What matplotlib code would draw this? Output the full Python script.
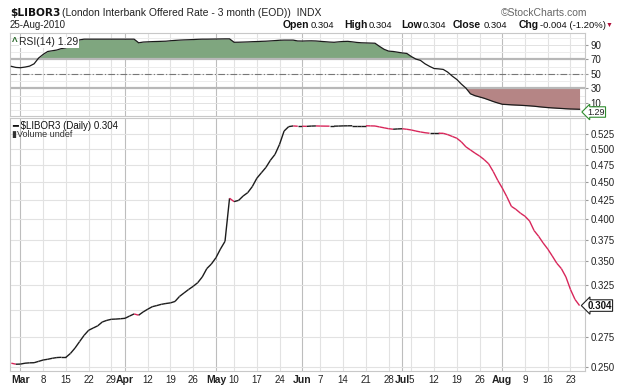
import numpy as np
import pandas as pd
import matplotlib
matplotlib.use('Agg')
import matplotlib.pyplot as plt
from matplotlib.collections import LineCollection
from matplotlib.ticker import FixedLocator, NullLocator, NullFormatter

# trading days (London holidays left out)
dates = pd.bdate_range('2010-02-25', '2010-08-25')
uk_holidays = pd.to_datetime(['2010-04-02', '2010-04-05', '2010-05-03', '2010-05-31'])
dates = dates[~dates.isin(uk_holidays)]

# 3 month LIBOR close
libor = [
    0.2530, 0.2522, 0.2523, 0.2530, 0.2533, 0.2534, 0.2545, 0.2556, 0.2562, 0.2570,
    0.2576, 0.2578, 0.2578, 0.2610, 0.2655, 0.2710, 0.2765, 0.2810, 0.2830, 0.2850,
    0.2885, 0.2900, 0.2910, 0.2912, 0.2915, 0.2919, 0.2940, 0.2960, 0.2948, 0.2979,
    0.3005, 0.3029, 0.3040, 0.3052, 0.3060, 0.3066, 0.3080, 0.3130, 0.3165, 0.3200,
    0.3232, 0.3270, 0.3330, 0.3420, 0.3470, 0.3540, 0.3640, 0.3730, 0.4279, 0.4233,
    0.4250, 0.4310, 0.4356, 0.4440, 0.4560, 0.4640, 0.4720, 0.4830, 0.4920, 0.5080,
    0.5300, 0.5375, 0.5387, 0.5382, 0.5382, 0.5380, 0.5385, 0.5387, 0.5385, 0.5384,
    0.5383, 0.5383, 0.5385, 0.5388, 0.5389, 0.5390, 0.5390, 0.5390, 0.5390, 0.5388,
    0.5386, 0.5370, 0.5355, 0.5340, 0.5331, 0.5336, 0.5339, 0.5330, 0.5318, 0.5300,
    0.5285, 0.5272, 0.5263, 0.5263, 0.5263, 0.5262, 0.5240, 0.5210, 0.5180, 0.5120,
    0.5040, 0.4990, 0.4940, 0.4895, 0.4840, 0.4775, 0.4660, 0.4530, 0.4420, 0.4300,
    0.4170, 0.4130, 0.4080, 0.4040, 0.3980, 0.3860, 0.3790, 0.3710, 0.3640, 0.3560,
    0.3478, 0.3420, 0.3330, 0.3200, 0.3100, 0.3040,
]

# RSI(14)
rsi = [
    60.5, 59.0, 58.6, 59.5, 60.8, 64.0, 72.0, 77.0, 81.0, 82.0,
    83.0, 85.0, 86.0, 90.0, 94.0, 97.0, 98.0, 98.0, 98.0, 98.0,
    98.0, 98.0, 98.0, 98.0, 98.0, 98.0, 98.0, 98.0, 93.0, 94.0,
    94.3, 94.6, 94.8, 95.0, 95.2, 95.8, 96.3, 96.7, 97.0, 97.2,
    97.5, 97.8, 98.0, 98.0, 98.1, 98.2, 98.3, 98.4, 98.4, 93.7,
    93.8, 94.0, 94.2, 94.5, 94.7, 95.0, 95.2, 95.6, 96.0, 96.5,
    96.7, 96.7, 96.7, 95.5, 95.4, 95.6, 95.7, 95.5, 95.0, 94.5,
    94.0, 93.7, 94.3, 94.8, 95.0, 94.3, 93.5, 93.0, 92.8, 92.6,
    92.4, 88.0, 84.0, 81.5, 81.0, 80.0, 79.0, 78.3, 74.0, 70.5,
    68.7, 64.0, 60.5, 57.5, 57.0, 56.3, 52.5, 47.0, 42.4, 36.0,
    30.5, 22.6, 20.0, 18.3, 16.5, 14.3, 12.0, 10.0, 8.2, 7.8,
    7.4, 7.1, 6.8, 6.4, 6.0, 5.5, 4.8, 4.2, 3.6, 3.2,
    2.8, 2.4, 2.0, 1.7, 1.5, 1.29,
]

tick_dates = ['2010-03-01', '2010-03-08', '2010-03-15', '2010-03-22', '2010-03-29',
              '2010-04-01', '2010-04-12', '2010-04-19', '2010-04-26', '2010-05-04',
              '2010-05-10', '2010-05-17', '2010-05-24', '2010-06-01', '2010-06-07',
              '2010-06-14', '2010-06-21', '2010-06-28', '2010-07-01', '2010-07-05',
              '2010-07-12', '2010-07-19', '2010-07-26', '2010-08-02', '2010-08-09',
              '2010-08-16', '2010-08-23']
tick_text = ['Mar', '8', '15', '22', '29', 'Apr', '12', '19', '26', 'May', '10', '17', '24',
             'Jun', '7', '14', '21', '28', 'Jul', '5', '12', '19', '26', 'Aug', '9', '16', '23']
month_labels = ['Mar', 'Apr', 'May', 'Jun', 'Jul', 'Aug']

price_ticks = [0.250, 0.275, 0.300, 0.325, 0.350, 0.375, 0.400, 0.425, 0.450, 0.475, 0.500, 0.525]
rsi_ticks = [10, 30, 50, 70, 90]

W, H = 617, 386
x = np.arange(len(dates))
libor = np.array(libor)
rsi = np.array(rsi)
tick_pos = [dates.get_loc(pd.Timestamp(d)) for d in tick_dates]

plt.rcParams['font.family'] = ['Liberation Sans', 'DejaVu Sans']

fig = plt.figure(figsize=(W / 100, H / 100), dpi=100)
fig.patch.set_facecolor('white')


def px(x0, y0, w, h):
    return [x0 / W, 1 - (y0 + h) / H, w / W, h / H]


ax_rsi = fig.add_axes(px(10, 33, 575, 83))
ax = fig.add_axes(px(10, 118, 575, 253))

for a in (ax_rsi, ax):
    a.set_xlim(-0.3, 126.2)
    for s in a.spines.values():
        s.set_color('#c8c8c8')
        s.set_linewidth(0.8)
    a.yaxis.tick_right()
    a.tick_params(axis='y', length=2, color='#999999', labelsize=7, pad=2,
                  labelcolor='#222222')
    a.tick_params(axis='x', length=0)
    a.xaxis.set_major_locator(FixedLocator(tick_pos))
    for t, lab in zip(tick_pos, tick_text):
        col = '#bdbdbd' if lab in month_labels else '#e2e2e2'
        a.axvline(t, color=col, lw=0.8, zorder=0)

# ---- RSI panel
ax_rsi.set_ylim(-8, 106.5)
ax_rsi.set_yticks(rsi_ticks)
ax_rsi.set_yticklabels([str(v) for v in rsi_ticks])
ax_rsi.xaxis.set_major_formatter(NullFormatter())
for v in [0, 20, 40, 60, 80, 100]:
    ax_rsi.axhline(v, color='#ececec', lw=0.7, zorder=0)
for v in rsi_ticks:
    ax_rsi.axhline(v, color='#e2e2e2', lw=0.7, zorder=0)
ax_rsi.fill_between(x, rsi, 70, where=rsi >= 70, interpolate=True,
                    color='#7fa67f', lw=0, zorder=1)
ax_rsi.fill_between(x, rsi, 30, where=rsi <= 30, interpolate=True,
                    color='#b58585', lw=0, zorder=1)
ax_rsi.axhline(70, color='#b8b8b8', lw=1.6, zorder=2)
ax_rsi.axhline(30, color='#b8b8b8', lw=1.6, zorder=2)
ax_rsi.axhline(50, color='#777777', lw=0.8, ls='-.', dashes=(6, 2, 1, 2), zorder=2)
ax_rsi.plot(x, rsi, color='#1a1a1a', lw=0.9, zorder=3)
ax_rsi.text(1.004, -2.5, '%.2f' % rsi[-1], transform=ax_rsi.get_yaxis_transform(),
            fontsize=6.5, va='center', ha='left', color='#222222',
            bbox=dict(boxstyle='larrow,pad=0.08', fc='white', ec='#2e8b2e', lw=0.8))
ax_rsi.text(0.016, 0.95, 'RSI(14) 1.29', transform=ax_rsi.transAxes, fontsize=7.5,
            va='top', ha='left', color='#222222',
            bbox=dict(boxstyle='square,pad=0.05', fc='white', ec='none'), zorder=5)
ax_rsi.text(0.004, 0.95, 'Λ', transform=ax_rsi.transAxes, fontsize=6,
            va='top', ha='left', color='#2e6b2e', fontweight='bold', zorder=5)

# ---- price panel
ax.set_yscale('log')
ax.set_ylim(0.2468, 0.5525)
ax.yaxis.set_major_locator(FixedLocator(price_ticks))
ax.yaxis.set_minor_locator(NullLocator())
ax.set_yticklabels(['' if v == 0.300 else '%.3f' % v for v in price_ticks])
ax.yaxis.set_minor_formatter(NullFormatter())
for v in price_ticks:
    ax.axhline(v, color='#e2e2e2', lw=0.8, zorder=0)

pts = np.column_stack([x, libor]).reshape(-1, 1, 2)
segs = np.concatenate([pts[:-1], pts[1:]], axis=1)
seg_cols = ['#1c1c1c' if b >= a else '#d8265a' for a, b in zip(libor[:-1], libor[1:])]
ax.add_collection(LineCollection(segs, colors=seg_cols, linewidths=1.0, zorder=3))

ax.text(1.004, libor[-1], '%.3f' % libor[-1], transform=ax.get_yaxis_transform(),
        fontsize=7, fontweight='bold', va='center', ha='left', color='#111111',
        bbox=dict(boxstyle='larrow,pad=0.08', fc='white', ec='#222222', lw=0.8))

ax.set_xticklabels(tick_text)
for lab in ax.get_xticklabels():
    lab.set_fontsize(7)
    lab.set_color('#222222')
    if lab.get_text() in month_labels:
        lab.set_fontweight('bold')
        lab.set_fontsize(7.5)
ax.tick_params(axis='x', pad=3)

fig.text(12 / W, 1 - 126 / H, '━ $LIBOR3 (Daily) 0.304', fontsize=7, va='center',
         ha='left', color='#111111')
fig.text(12 / W, 1 - 135 / H, '▮Volume undef', fontsize=6.5, va='center', ha='left',
         color='#333333')

# ---- header
fig.text(10 / W, 1 - 13 / H, '$LIBOR3', fontsize=7.6, fontweight='bold', va='center',
         ha='left', color='#111111', family='DejaVu Sans')
fig.text(62 / W, 1 - 13 / H, '(London Interbank Offered Rate - 3 month (EOD))  INDX',
         fontsize=7.5, va='center', ha='left', color='#222222')
fig.text(587 / W, 1 - 13 / H, '©StockCharts.com', fontsize=7.5, va='center', ha='right',
         color='#666666')
fig.text(10 / W, 1 - 25 / H, '25-Aug-2010', fontsize=7, va='center', ha='left',
         color='#222222')

quote = [('Open', True, 283), ('0.304', False, 311), ('High', True, 344),
         ('0.304', False, 369), ('Low', True, 401), ('0.304', False, 423),
         ('Close', True, 453), ('0.304', False, 484), ('Chg', True, 519),
         ('-0.004 (-1.20%)', False, 540)]
for txt, bold, xp in quote:
    fig.text(xp / W, 1 - 25 / H, txt, fontsize=7.5 if bold else 6.8,
             fontweight='bold' if bold else 'normal', va='center', ha='left',
             color='#111111')
fig.text(609 / W, 1 - 25 / H, '▼', fontsize=5, va='center', ha='center', color='#b0103a')

fig.savefig('out.png', dpi=100, facecolor='white')
